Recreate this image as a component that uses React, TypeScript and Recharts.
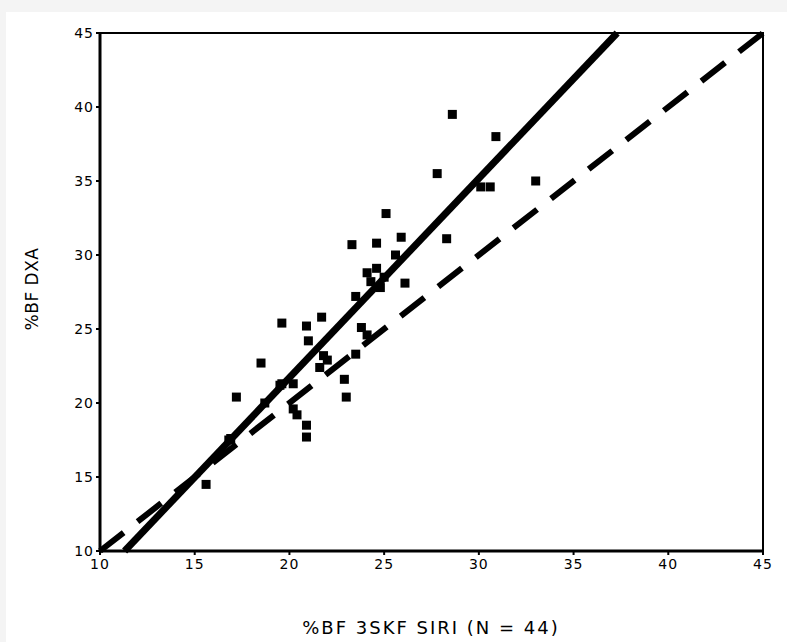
import {
  ReferenceArea,
  ReferenceLine,
  Scatter,
  ScatterChart,
  XAxis,
  YAxis,
  Label,
} from "recharts";

// %BF by 3-site skinfold (Siri) vs %BF by DXA
const siri = [
  15.6, 16.8, 16.9, 17.2, 18.5, 18.7, 19.6, 19.5, 19.6, 20.2, 20.2, 20.4,
  20.9, 21.0, 20.9, 20.9, 21.7, 21.6, 21.8, 22.0, 22.9, 23.0, 23.3, 23.5,
  23.5, 23.8, 24.1, 24.1, 24.3, 24.6, 24.6, 24.8, 25.0, 25.1, 25.6, 25.9,
  26.1, 27.8, 28.3, 28.6, 30.1, 30.6, 30.9, 33.0,
];
const dxa = [
  14.5, 17.5, 17.6, 20.4, 22.7, 20.0, 25.4, 21.2, 21.3, 21.3, 19.6, 19.2,
  25.2, 24.2, 18.5, 17.7, 25.8, 22.4, 23.2, 22.9, 21.6, 20.4, 30.7, 27.2,
  23.3, 25.1, 24.6, 28.8, 28.2, 29.1, 30.8, 27.8, 28.5, 32.8, 30.0, 31.2,
  28.1, 35.5, 31.1, 39.5, 34.6, 34.6, 38.0, 35.0,
];

const xTicks = [10, 15, 20, 25, 30, 35, 40, 45];
const yTicks = [10, 15, 20, 25, 30, 35, 40, 45];

// regression fit (solid) and line of identity (dashed)
const fitLine = [
  { x: 11.3, y: 10 },
  { x: 37.3, y: 45 },
];
const identityLine = [
  { x: 10, y: 10 },
  { x: 45, y: 45 },
];

const points = siri.map((x, i) => ({ x, y: dxa[i] }));

const tickFont = {
  fontSize: 14,
  fill: "#000",
  fontFamily: "DejaVu Sans",
  letterSpacing: 1,
};

const SquareDot = (props: any) => {
  const { cx, cy } = props;
  if (cx == null || cy == null) return null;
  return <rect x={cx - 4.5} y={cy - 4.5} width={9} height={9} fill="#000" />;
};

export default function App() {
  return (
    <div
      style={{
        position: "absolute",
        left: 0,
        top: 0,
        width: 787,
        height: 642,
        background: "#f4f4f4",
      }}
    >
      <div
        style={{
          position: "absolute",
          left: 6,
          top: 12,
          width: 781,
          height: 630,
          background: "#fff",
        }}
      />
      <div style={{ position: "absolute", left: 0, top: 0 }}>
        <ScatterChart
          width={787}
          height={642}
          margin={{ top: 33, right: 24, bottom: 61, left: 0 }}
        >
          <XAxis
            type="number"
            dataKey="x"
            domain={[10, 45]}
            ticks={xTicks}
            height={30}
            axisLine={{ stroke: "#000", strokeWidth: 3 }}
            tickLine={{ stroke: "#000", strokeWidth: 2 }}
            tickSize={4}
            tickMargin={4}
            tick={tickFont}
            allowDataOverflow
          >
            <Label
              content={() => (
                <text
                  x={431}
                  y={634}
                  textAnchor="middle"
                  fontSize={18}
                  fontFamily="DejaVu Sans"
                  letterSpacing={2}
                  fill="#000"
                >
                  %BF 3SKF SIRI (N = 44)
                </text>
              )}
            />
          </XAxis>
          <YAxis
            type="number"
            dataKey="y"
            domain={[10, 45]}
            ticks={yTicks}
            width={100}
            axisLine={{ stroke: "#000", strokeWidth: 3 }}
            tickLine={{ stroke: "#000", strokeWidth: 2 }}
            tickSize={4}
            tickMargin={2}
            tick={tickFont}
            allowDataOverflow
          >
            <Label
              content={() => (
                <text
                  x={38}
                  y={289}
                  textAnchor="middle"
                  fontSize={17}
                  fontFamily="DejaVu Sans"
                  letterSpacing={0.5}
                  fill="#000"
                  transform="rotate(-90 38 289)"
                >
                  %BF DXA
                </text>
              )}
            />
          </YAxis>
          <ReferenceArea
            x1={10}
            x2={45}
            y1={10}
            y2={45}
            fill="none"
            stroke="#000"
            strokeWidth={2}
            fillOpacity={0}
          />
          <Scatter
            data={points}
            shape={SquareDot}
            isAnimationActive={false}
          />
          <ReferenceLine
            segment={identityLine}
            stroke="#000"
            strokeWidth={6}
            strokeDasharray="30 17.7"
          />
          <ReferenceLine segment={fitLine} stroke="#000" strokeWidth={7} />
        </ScatterChart>
      </div>
    </div>
  );
}
